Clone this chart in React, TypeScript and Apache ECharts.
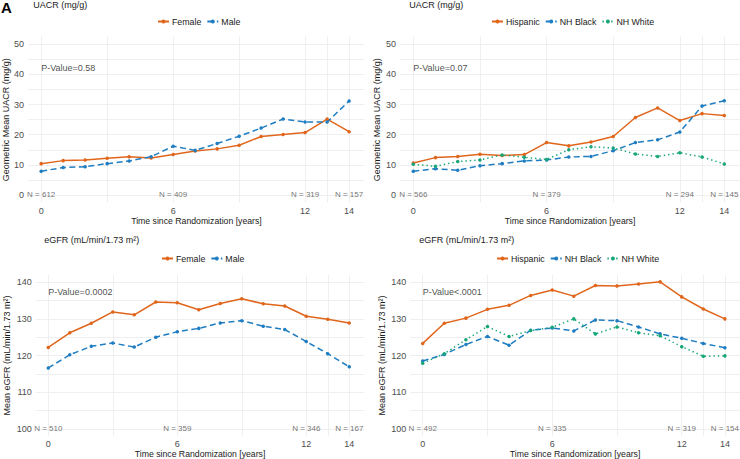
import React, { useEffect, useRef } from "react";
import * as echarts from "echarts";

const years = [0, 1, 2, 3, 4, 5, 6, 7, 8, 9, 10, 11, 12, 13, 14];
const xTickLabels = [0, 6, 12, 14];
const xGridValues = [0, 3, 6, 9, 12, 13, 14];
const uacrTickLabels = [0, 10, 20, 30, 40, 50];
const uacrGridValues = [0, 5, 10, 15, 20, 25, 30, 35, 40, 45, 50];
const egfrTickLabels = [100, 110, 120, 130, 140];
const egfrGridValues = [100, 105, 110, 115, 120, 125, 130, 135, 140];

const uacrFemale = [10.4, 11.4, 11.6, 12.2, 12.7, 12.3, 13.4, 14.6, 15.3, 16.5, 19.4, 20.1, 20.7, 25.2, 21.0];
const uacrMale = [7.9, 9.1, 9.4, 10.4, 11.3, 12.7, 16.2, 14.8, 17.1, 19.5, 22.2, 25.2, 24.2, 24.2, 31.2];
const uacrHispanic = [10.6, 12.4, 12.8, 13.5, 13.1, 13.4, 17.4, 16.3, 17.6, 19.4, 25.7, 28.9, 24.7, 27.0, 26.4];
const uacrBlack = [7.9, 8.7, 8.2, 9.7, 10.4, 11.3, 11.6, 12.6, 12.8, 14.7, 17.4, 18.3, 20.9, 29.5, 31.3];
const uacrWhite = [10.2, 9.5, 11.1, 11.6, 13.3, 12.5, 11.8, 15.0, 16.0, 15.6, 13.6, 12.8, 14.0, 12.6, 10.3];

const egfrFemale = [122.2, 126.2, 128.8, 131.9, 131.1, 134.6, 134.4, 132.5, 134.2, 135.5, 134.1, 133.5, 130.7, 129.9, 128.9];
const egfrMale = [116.6, 120.2, 122.5, 123.4, 122.3, 125.0, 126.5, 127.4, 128.9, 129.5, 128.0, 127.1, 123.8, 120.5, 116.9];
const egfrHispanic = [123.3, 128.8, 130.2, 132.6, 133.7, 136.4, 137.9, 136.2, 139.1, 139.0, 139.5, 140.1, 136.0, 132.7, 130.0];
const egfrBlack = [118.5, 120.3, 123.0, 125.2, 122.8, 126.9, 127.5, 126.7, 129.7, 129.5, 127.8, 125.9, 124.7, 123.3, 122.1];
const egfrWhite = [117.9, 120.5, 124.3, 127.9, 125.2, 126.8, 127.7, 130.0, 125.9, 127.8, 126.2, 125.4, 122.4, 119.8, 119.9];

const nYears = [0, 6, 12, 14];
const nUacrSex = [612, 409, 319, 157];
const nUacrRace = [566, 379, 294, 145];
const nEgfrSex = [510, 359, 346, 167];
const nEgfrRace = [492, 335, 319, 154];

const pValueTexts = ["P-Value=0.58", "P-Value=0.07", "P-Value=0.0002", "P-Value<.0001"];
const pValueY = [42, 42, 137.3, 137.3];

const uacrTitle = "UACR (mg/g)";
const egfrTitle = "eGFR (mL/min/1.73 m²)";
const uacrAxisName = "Geometric Mean UACR (mg/g)";
const egfrAxisName = "Mean eGFR (mL/min/1.73 m²)";
const xAxisName = "Time since Randomization [years]";

const FONT = "'Liberation Sans', Arial, sans-serif";
const ORANGE = "#E0661C";
const BLUE = "#1F7DC1";
const GREEN = "#17A67A";

const App: React.FC = () => {
  const ref = useRef<HTMLDivElement>(null);

  useEffect(() => {
    if (!ref.current) return;
    const chart = echarts.init(ref.current, undefined, { renderer: "svg" });

    const XMIN = -0.58;
    const XMAX = 14.7;
    const panels = [
      { left: 26.5, top: 36.8, width: 338, height: 165.7, ymin: -2.5, ymax: 52.5, labels: uacrTickLabels, grid: uacrGridValues, yName: uacrAxisName, yGap: 15, yMargin: 4.5, labelMargin: 4, nameGap: 14, nY: 0, nData: nUacrSex },
      { left: 400.4, top: 36.8, width: 339.4, height: 165.7, ymin: -2.5, ymax: 52.5, labels: uacrTickLabels, grid: uacrGridValues, yName: uacrAxisName, yGap: 16, yMargin: 4.5, labelMargin: 4, nameGap: 14, nY: 0, nData: nUacrRace },
      { left: 35.8, top: 274.9, width: 328.5, height: 162.2, ymin: 98, ymax: 142, labels: egfrTickLabels, grid: egfrGridValues, yName: egfrAxisName, yGap: 24.5, yMargin: 4, labelMargin: 3, nameGap: 11.5, nY: 100, nData: nEgfrSex },
      { left: 410.2, top: 274.9, width: 329.8, height: 162.2, ymin: 98, ymax: 142, labels: egfrTickLabels, grid: egfrGridValues, yName: egfrAxisName, yGap: 24, yMargin: 4, labelMargin: 3, nameGap: 11.5, nY: 100, nData: nEgfrRace },
    ];

    const gridLine = { show: true, lineStyle: { color: "#EBEBEB", width: 0.8 } };

    const grids = panels.map((p) => ({ left: p.left, top: p.top, width: p.width, height: p.height, containLabel: false }));
    const xAxes = panels.map((p, i) => ({
      type: "value",
      gridIndex: i,
      min: XMIN,
      max: XMAX,
      name: xAxisName,
      nameLocation: "middle",
      nameGap: p.nameGap,
      nameTextStyle: { fontFamily: FONT, fontSize: 8.7, color: "#1A1A1A" },
      axisLine: { show: false },
      axisTick: { show: false, customValues: xGridValues },
      axisLabel: { customValues: xTickLabels, fontFamily: FONT, fontSize: 9, color: "#4D4D4D", margin: p.labelMargin },
      splitLine: gridLine,
    }));
    const yAxes = panels.map((p, i) => ({
      type: "value",
      gridIndex: i,
      min: p.ymin,
      max: p.ymax,
      name: p.yName,
      nameLocation: "middle",
      nameGap: p.yGap,
      nameTextStyle: { fontFamily: FONT, fontSize: 9, color: "#1A1A1A" },
      axisLine: { show: false },
      axisTick: { show: false, customValues: p.grid },
      axisLabel: { customValues: p.labels, fontFamily: FONT, fontSize: 9, color: "#4D4D4D", margin: p.yMargin },
      splitLine: gridLine,
    }));

    const toPts = (vals: number[]) => years.map((y, i) => [y, vals[i]]);
    const lineSeries = (name: string, vals: number[], idx: number, color: string, type: any) => ({
      type: "line",
      name,
      xAxisIndex: idx,
      yAxisIndex: idx,
      data: toPts(vals),
      symbol: "circle",
      symbolSize: 3.5,
      showSymbol: true,
      itemStyle: { color },
      lineStyle: { color, width: 1.5, type },
      silent: true,
    });
    const DASH = [6, 3.5];
    const DOT = [1.4, 3];

    const series: any[] = [
      lineSeries("Female", uacrFemale, 0, ORANGE, "solid"),
      lineSeries("Male", uacrMale, 0, BLUE, DASH),
      lineSeries("Hispanic", uacrHispanic, 1, ORANGE, "solid"),
      lineSeries("NH Black", uacrBlack, 1, BLUE, DASH),
      lineSeries("NH White", uacrWhite, 1, GREEN, DOT),
      lineSeries("Female", egfrFemale, 2, ORANGE, "solid"),
      lineSeries("Male", egfrMale, 2, BLUE, DASH),
      lineSeries("Hispanic", egfrHispanic, 3, ORANGE, "solid"),
      lineSeries("NH Black", egfrBlack, 3, BLUE, DASH),
      lineSeries("NH White", egfrWhite, 3, GREEN, DOT),
    ];

    panels.forEach((p, i) => {
      series.push({
        type: "scatter",
        xAxisIndex: i,
        yAxisIndex: i,
        symbolSize: 0,
        silent: true,
        data: nYears.map((x, k) => ({ value: [x, p.nY], name: "N = " + p.nData[k] })),
        label: {
          show: true,
          position: "inside",
          formatter: (d: any) => d.name,
          fontFamily: FONT,
          fontSize: 8,
          color: "#4D4D4D",
        },
      });
      series.push({
        type: "scatter",
        xAxisIndex: i,
        yAxisIndex: i,
        symbolSize: 0,
        silent: true,
        data: [{ value: [0, pValueY[i]], name: pValueTexts[i] }],
        label: {
          show: true,
          position: "right",
          distance: 0,
          formatter: (d: any) => d.name,
          fontFamily: FONT,
          fontSize: 9,
          color: "#1A1A1A",
        },
      });
    });

    const legendBase = {
      itemWidth: 11,
      itemHeight: 5,
      itemGap: 5,
      textStyle: { fontFamily: FONT, fontSize: 8.8, color: "#1A1A1A", padding: [0, 0, 0, -2] },
      selectedMode: false,
      padding: 0,
    };

    const option: any = {
      animation: false,
      backgroundColor: "#FFFFFF",
      grid: grids,
      xAxis: xAxes,
      yAxis: yAxes,
      legend: [
        { ...legendBase, data: ["Female", "Male"], left: 157, top: 17 },
        { ...legendBase, data: ["Hispanic", "NH Black", "NH White"], left: 491, top: 17 },
        { ...legendBase, data: ["Female", "Male"], left: 161, top: 254 },
        { ...legendBase, data: ["Hispanic", "NH Black", "NH White"], left: 496, top: 254 },
      ],
      graphic: [
        { type: "text", left: 1, top: 0, style: { text: "A", fontFamily: FONT, fontSize: 15, fontWeight: "bold", fill: "#000" } },
        { type: "text", x: 33.3, y: 5, style: { text: uacrTitle, fontFamily: FONT, fontSize: 9, fill: "#1A1A1A", verticalAlign: "middle" } },
        { type: "text", x: 409.3, y: 5, style: { text: uacrTitle, fontFamily: FONT, fontSize: 9, fill: "#1A1A1A", verticalAlign: "middle" } },
        { type: "text", x: 44.3, y: 240, style: { text: egfrTitle, fontFamily: FONT, fontSize: 9, fill: "#1A1A1A", verticalAlign: "middle" } },
        { type: "text", x: 419.3, y: 240, style: { text: egfrTitle, fontFamily: FONT, fontSize: 9, fill: "#1A1A1A", verticalAlign: "middle" } },
      ],
      series,
    };

    chart.setOption(option);
    return () => chart.dispose();
  }, []);

  return (
    <div
      ref={ref}
      style={{ position: "absolute", left: 0, top: 0, width: 740, height: 459, background: "#fff" }}
    />
  );
};

export default App;
